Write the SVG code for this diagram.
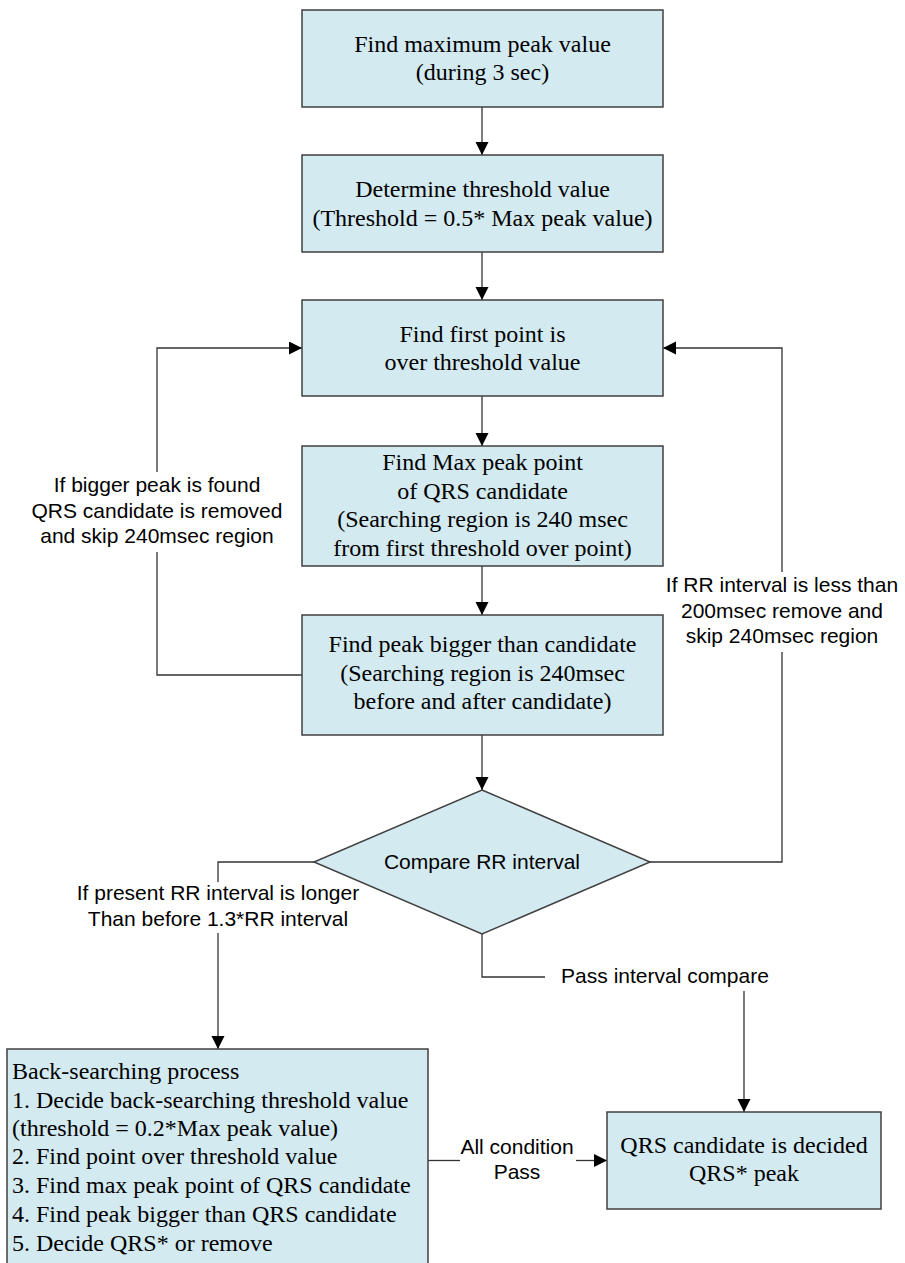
<svg xmlns="http://www.w3.org/2000/svg" width="905" height="1263" viewBox="0 0 905 1263">
<defs>
<marker id="arr" markerUnits="userSpaceOnUse" markerWidth="14" markerHeight="14" refX="13" refY="6.5" orient="auto">
<path d="M0,0 L13,6.5 L0,13 Z" fill="#000"/>
</marker>
<style>
.box{fill:#D3EAF1;stroke:#404040;stroke-width:1.5}
.ser{font-family:'Liberation Serif','Times New Roman',serif;font-size:24px;fill:#000}
.san{font-family:'Liberation Sans',Arial,sans-serif;font-size:21px;fill:#000}
.c{text-anchor:middle}
.ln{fill:none;stroke:#333;stroke-width:1.3}
</style>
</defs>
<rect width="905" height="1263" fill="#fff"/>

<g id="connectors">
<path class="ln" d="M482,107 V155" marker-end="url(#arr)"/>
<path class="ln" d="M482,252 V300" marker-end="url(#arr)"/>
<path class="ln" d="M482,396 V446" marker-end="url(#arr)"/>
<path class="ln" d="M482,566 V615" marker-end="url(#arr)"/>
<path class="ln" d="M482,735 V790" marker-end="url(#arr)"/>
<path class="ln" d="M302,675 H157 V552"/>
<path class="ln" d="M157,472 V348 H302" marker-end="url(#arr)"/>
<path class="ln" d="M650,862 H782 V652"/>
<path class="ln" d="M782,572 V348 H663" marker-end="url(#arr)"/>
<path class="ln" d="M314,862 H218 V882"/>
<path class="ln" d="M218,933 V1049" marker-end="url(#arr)"/>
<path class="ln" d="M482,934 V977 H545"/>
<path class="ln" d="M744,991 V1112" marker-end="url(#arr)"/>
<path class="ln" d="M428,1160.5 H460"/>
<path class="ln" d="M576,1160.5 H607" marker-end="url(#arr)"/>
<g id="connector-labels" font-family="Liberation Sans, Arial, sans-serif" font-size="21" text-anchor="middle">
<text x="157" y="492">If bigger peak is found</text>
<text x="157" y="518">QRS candidate is removed</text>
<text x="157" y="543">and skip 240msec region</text>
<text x="782" y="592">If RR interval is less than</text>
<text x="782" y="618">200msec remove and</text>
<text x="782" y="643">skip 240msec region</text>
<text x="218" y="900">If present RR interval is longer</text>
<text x="218" y="926">Than before 1.3*RR interval</text>
<text x="665" y="983">Pass interval compare</text>
<text x="517" y="1154">All condition</text>
<text x="517" y="1179">Pass</text>
</g>
</g>

<g font-family="Liberation Serif, Times New Roman, serif" font-size="24" fill="#000">
<g id="n1" text-anchor="middle">
<rect class="box" x="302" y="10" width="361" height="97"/>
<text x="482.5" y="52">Find maximum peak value</text>
<text x="482.5" y="80">(during 3 sec)</text>
</g>
<g id="n2" text-anchor="middle">
<rect class="box" x="302" y="155" width="361" height="97"/>
<text x="482.5" y="197">Determine threshold value</text>
<text x="482.5" y="226">(Threshold = 0.5* Max peak value)</text>
</g>
<g id="n3" text-anchor="middle">
<rect class="box" x="302" y="300" width="361" height="96"/>
<text x="482.5" y="342">Find first point is</text>
<text x="482.5" y="370">over threshold value</text>
</g>
<g id="n4" text-anchor="middle">
<rect class="box" x="302" y="446" width="361" height="120"/>
<text x="482.5" y="470">Find Max peak point</text>
<text x="482.5" y="498.5">of QRS candidate</text>
<text x="482.5" y="527">(Searching region is 240 msec</text>
<text x="482.5" y="555.5">from first threshold over point)</text>
</g>
<g id="n5" text-anchor="middle">
<rect class="box" x="302" y="615" width="361" height="120"/>
<text x="482.5" y="652">Find peak bigger than candidate</text>
<text x="482.5" y="681">(Searching region is 240msec</text>
<text x="482.5" y="709">before and after candidate)</text>
</g>
<g id="n6">
<polygon class="box" points="482,790 650,862 482,934 314,862"/>
<text x="482" y="869" font-family="Liberation Sans, Arial, sans-serif" font-size="21" text-anchor="middle">Compare RR interval</text>
</g>
<g id="n7">
<rect class="box" x="7" y="1049" width="421" height="230"/>
<text x="12" y="1079">Back-searching process</text>
<text x="12" y="1108">1. Decide back-searching threshold value</text>
<text x="12" y="1136">(threshold = 0.2*Max peak value)</text>
<text x="12" y="1164">2. Find point over threshold value</text>
<text x="12" y="1193">3. Find max peak point of QRS candidate</text>
<text x="12" y="1222">4. Find peak bigger than QRS candidate</text>
<text x="12" y="1251">5. Decide QRS* or remove</text>
</g>
<g id="n8" text-anchor="middle">
<rect class="box" x="607" y="1112" width="274" height="97"/>
<text x="744" y="1153">QRS candidate is decided</text>
<text x="744" y="1181">QRS* peak</text>
</g>
</g>
</svg>
